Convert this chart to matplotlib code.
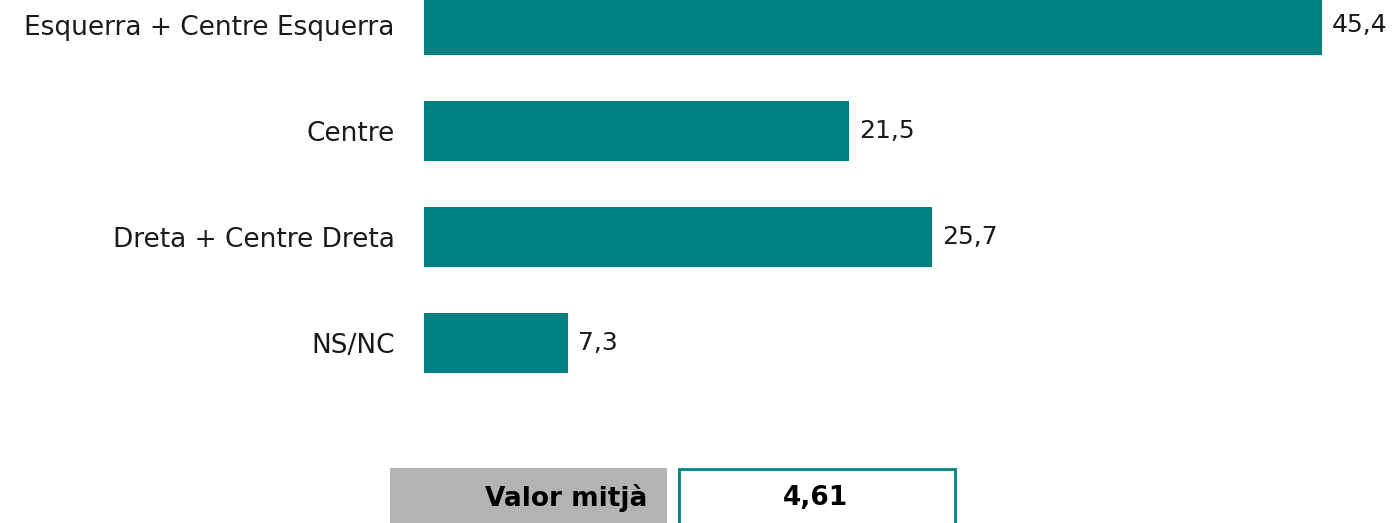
import matplotlib
matplotlib.use("Agg")
import matplotlib.pyplot as plt
from matplotlib.patches import Rectangle

categories = ["Esquerra + Centre Esquerra", "Centre", "Dreta + Centre Dreta", "NS/NC"]
values = [45.4, 21.5, 25.7, 7.3]
mean_label = "Valor mitjà"
mean_value = "4,61"

TEAL = "#008080"
W, H = 1392, 523
FONT = "DejaVu Sans"

fig = plt.figure(figsize=(W / 100, H / 100), dpi=100)
# axes placed in pixel terms: bars start at x=424, 45.4 ends at x=1322
ax = fig.add_axes([424 / W, 1 - 400 / H, (1322 - 424) / W, 400 / H])
ypos = list(range(len(categories)))
ax.barh(ypos, values, height=0.566, color=TEAL)
ax.set_xlim(0, 45.4)
ax.set_ylim((400 - 25) / 106, -25 / 106)
for y, v in zip(ypos, values):
    ax.text(v + 0.5, y, f"{v:.1f}".replace(".", ","), va="center", ha="left",
            fontsize=18, family=FONT, color="#1a1a1a")
ax.set_yticks(ypos)
ax.set_yticklabels(categories, fontsize=19, family=FONT, color="#1a1a1a")
ax.tick_params(axis="y", length=0, pad=21)
ax.set_xticks([])
for s in ax.spines.values():
    s.set_visible(False)

# summary boxes at the bottom
gray = Rectangle((390 / W, -0.05), (667 - 390) / W, 0.05 + 1 - 468 / H,
                 transform=fig.transFigure, facecolor="#b3b3b3", edgecolor="none")
white = Rectangle((679 / W, -0.05), (955 - 679) / W, 0.05 + 1 - 469 / H,
                  transform=fig.transFigure, facecolor="white", edgecolor=TEAL, linewidth=2)
fig.patches.extend([gray, white])
fig.text(647 / W, 1 - 498 / H, mean_label, ha="right", va="center",
         fontsize=19, fontweight="bold", family=FONT)
fig.text(816 / W, 1 - 498 / H, mean_value, ha="center", va="center",
         fontsize=19, fontweight="bold", family=FONT)

fig.savefig("out.png", dpi=100)
